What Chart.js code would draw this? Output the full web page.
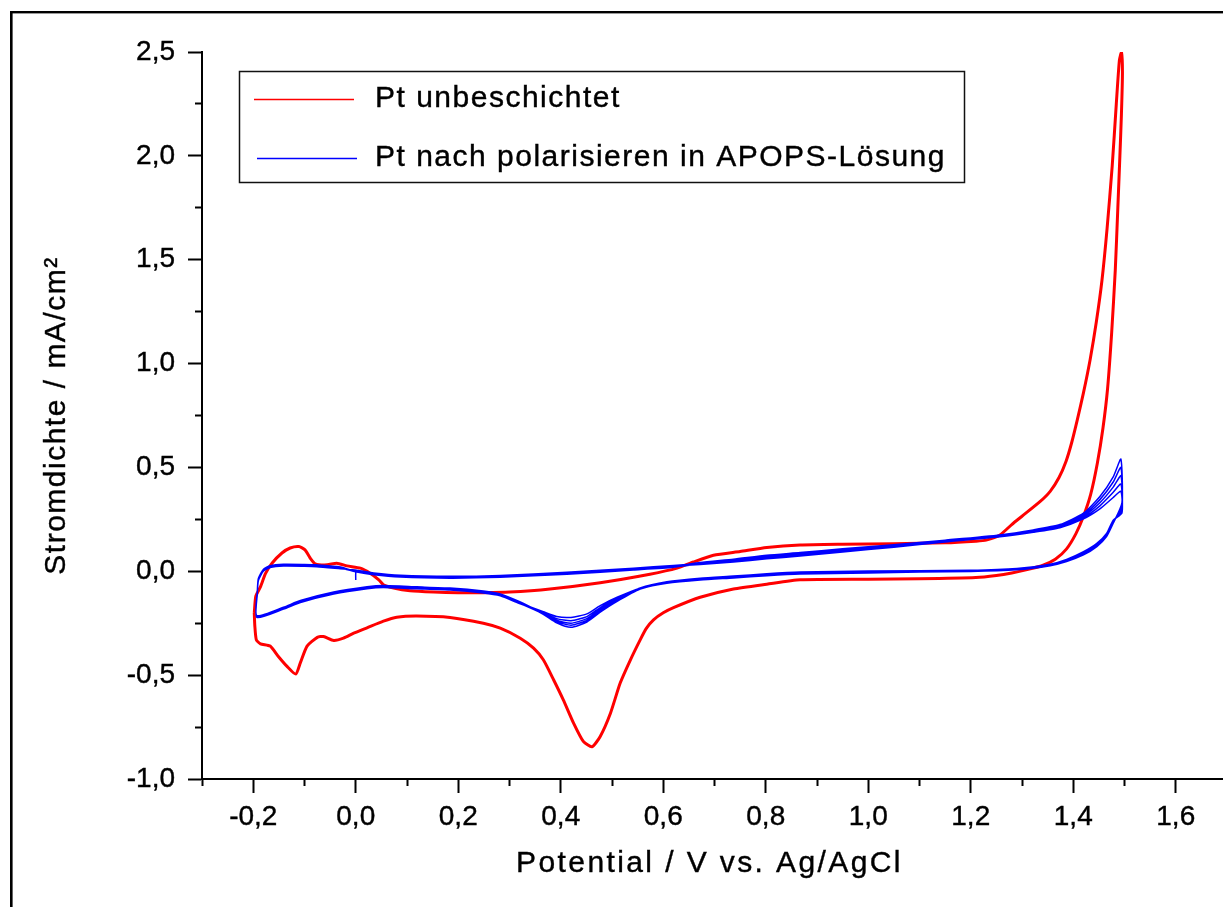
<!DOCTYPE html>
<html>
<head>
<meta charset="utf-8">
<script src="https://cdn.jsdelivr.net/npm/chart.js@4/dist/chart.umd.min.js"></script>
<style>
  html, body { margin: 0; padding: 0; overflow: hidden; background: #fff; }
  #wrap { width: 1223px; height: 907px; overflow: hidden; position: relative; }
  canvas { display: block; }
</style>
</head>
<body>
<div id="wrap"><canvas id="cv" width="1232" height="907"></canvas></div>
<script>
// Axis ranges and tick positions
const xRange = [-0.3, 1.7];
const yRange = [-1.0, 2.5];
const xMajorTicks = [-0.2, 0.0, 0.2, 0.4, 0.6, 0.8, 1.0, 1.2, 1.4, 1.6];
const xMinorTicks = [-0.3, -0.1, 0.1, 0.3, 0.5, 0.7, 0.9, 1.1, 1.3, 1.5, 1.7];
const yMajorTicks = [-1.0, -0.5, 0.0, 0.5, 1.0, 1.5, 2.0, 2.5];
const yMinorTicks = [-0.75, -0.25, 0.25, 0.75, 1.25, 1.75, 2.25];

// Pt unbeschichtet: one full cycle [potential V, current density mA/cm²]
const redLoop = [
  [-0.198,-0.200],[-0.195,-0.120],[-0.186,-0.075],[-0.176,-0.010],[-0.163,0.040],[-0.144,0.088],
  [-0.128,0.112],[-0.111,0.119],[-0.099,0.103],[-0.089,0.064],[-0.079,0.036],[-0.056,0.031],
  [-0.037,0.039],[-0.017,0.026],[0.009,0.015],[0.028,-0.009],[0.045,-0.041],[0.054,-0.065],
  [0.074,-0.081],[0.106,-0.094],[0.152,-0.100],[0.200,-0.103],[0.250,-0.103],[0.300,-0.100],
  [0.379,-0.085],[0.477,-0.055],[0.574,-0.014],[0.627,0.015],[0.659,0.045],[0.698,0.077],
  [0.750,0.095],[0.802,0.114],[0.867,0.126],[0.950,0.130],[1.050,0.133],[1.150,0.137],
  [1.210,0.145],[1.230,0.150],[1.257,0.175],[1.280,0.225],[1.300,0.265],[1.335,0.335],
  [1.355,0.385],[1.372,0.450],[1.386,0.530],[1.397,0.620],[1.408,0.730],[1.420,0.860],
  [1.433,1.020],[1.445,1.200],[1.456,1.400],[1.466,1.650],[1.476,1.950],[1.484,2.250],
  [1.490,2.460],[1.494,2.500],
  [1.496,2.400],[1.494,2.200],[1.491,2.000],[1.487,1.750],[1.482,1.450],[1.475,1.150],
  [1.467,0.880],[1.458,0.690],[1.447,0.520],[1.434,0.370],[1.420,0.265],[1.405,0.180],
  [1.387,0.108],[1.365,0.058],[1.340,0.028],[1.310,0.008],[1.280,-0.008],[1.250,-0.020],
  [1.210,-0.030],[1.100,-0.036],[1.000,-0.038],[0.867,-0.041],[0.802,-0.062],[0.737,-0.085],
  [0.672,-0.125],[0.620,-0.175],[0.600,-0.200],[0.581,-0.234],[0.567,-0.275],[0.555,-0.330],
  [0.536,-0.426],[0.516,-0.538],[0.497,-0.683],[0.477,-0.795],[0.461,-0.845],[0.444,-0.819],
  [0.425,-0.731],[0.405,-0.619],[0.386,-0.522],[0.366,-0.426],[0.347,-0.370],[0.321,-0.322],
  [0.282,-0.274],[0.249,-0.250],[0.184,-0.222],[0.119,-0.215],[0.080,-0.221],[0.054,-0.240],
  [0.022,-0.272],[-0.004,-0.298],[-0.024,-0.322],[-0.043,-0.333],[-0.063,-0.314],[-0.075,-0.318],
  [-0.095,-0.360],[-0.108,-0.440],[-0.117,-0.495],[-0.134,-0.458],[-0.151,-0.410],[-0.167,-0.360],
  [-0.186,-0.349],[-0.194,-0.330],[-0.197,-0.260],[-0.198,-0.200]
];

// Pt nach polarisieren: scan start at 0 V, then five cycles sharing one potential path
const blueStartPotential = [0.000, 0.000];
const blueStartCurrent = [-0.042, -0.008];
const bluePotential = [
  0.002, 0.035, 0.087, 0.184, 0.282, 0.412, 0.542, 0.620, 0.672, 0.737,
  0.802, 0.867, 0.950, 1.050, 1.150, 1.257, 1.322, 1.374, 1.420, 1.452,
  1.478, 1.493, 1.495, 1.478, 1.465, 1.446, 1.420, 1.387, 1.355, 1.290,
  1.200, 1.000, 0.867, 0.802, 0.737, 0.672, 0.607, 0.555, 0.510, 0.477,
  0.451, 0.420, 0.392, 0.366, 0.321, 0.282, 0.249, 0.184, 0.119, 0.054,
  0.022, -0.043, -0.108, -0.141, -0.193, -0.192, -0.190, -0.180, -0.167, -0.141,
  -0.100, -0.076, -0.030
];
const blueCycle1 = [
  0.000, -0.013, -0.024, -0.029, -0.025, -0.010, 0.010, 0.023, 0.042, 0.058,
  0.077, 0.090, 0.108, 0.128, 0.150, 0.175, 0.199, 0.225, 0.280, 0.360,
  0.455, 0.540, 0.330, 0.231, 0.167, 0.119, 0.079, 0.047, 0.027, 0.007,
  -0.001, -0.005, -0.009, -0.017, -0.028, -0.038, -0.054, -0.081, -0.125, -0.165,
  -0.205, -0.222, -0.218, -0.195, -0.153, -0.114, -0.100, -0.086, -0.080, -0.074,
  -0.080, -0.105, -0.146, -0.178, -0.218, -0.100, -0.040, 0.005, 0.022, 0.029,
  0.028, 0.026, 0.016
];
const blueCycle2 = [
  -0.004, -0.017, -0.028, -0.033, -0.029, -0.014, 0.006, 0.019, 0.040, 0.055,
  0.072, 0.086, 0.104, 0.125, 0.148, 0.172, 0.195, 0.220, 0.272, 0.345,
  0.430, 0.500, 0.310, 0.236, 0.172, 0.124, 0.084, 0.050, 0.030, 0.009,
  0.001, -0.008, -0.013, -0.021, -0.032, -0.042, -0.058, -0.085, -0.130, -0.175,
  -0.218, -0.238, -0.228, -0.200, -0.157, -0.118, -0.104, -0.090, -0.084, -0.078,
  -0.084, -0.109, -0.150, -0.182, -0.222, -0.105, -0.044, 0.001, 0.018, 0.025,
  0.024, 0.022, 0.012
];
const blueCycle3 = [
  0.005, -0.008, -0.019, -0.024, -0.020, -0.005, 0.015, 0.028, 0.037, 0.050,
  0.066, 0.080, 0.099, 0.121, 0.145, 0.170, 0.192, 0.216, 0.265, 0.330,
  0.405, 0.460, 0.300, 0.240, 0.176, 0.128, 0.088, 0.053, 0.031, 0.012,
  0.005, 0.001, -0.004, -0.012, -0.023, -0.033, -0.050, -0.080, -0.135, -0.183,
  -0.228, -0.250, -0.236, -0.203, -0.148, -0.109, -0.095, -0.081, -0.075, -0.069,
  -0.075, -0.100, -0.141, -0.173, -0.213, -0.095, -0.035, 0.010, 0.027, 0.034,
  0.033, 0.031, 0.021
];
const blueCycle4 = [
  -0.002, -0.015, -0.026, -0.031, -0.027, -0.012, 0.008, 0.021, 0.035, 0.047,
  0.062, 0.076, 0.096, 0.118, 0.143, 0.168, 0.190, 0.213, 0.258, 0.315,
  0.380, 0.420, 0.290, 0.244, 0.180, 0.131, 0.091, 0.055, 0.032, 0.011,
  0.002, -0.006, -0.011, -0.019, -0.030, -0.040, -0.057, -0.086, -0.140, -0.190,
  -0.236, -0.260, -0.242, -0.205, -0.155, -0.116, -0.102, -0.088, -0.082, -0.076,
  -0.082, -0.107, -0.148, -0.180, -0.220, -0.102, -0.042, 0.003, 0.020, 0.027,
  0.026, 0.024, 0.014
];
const blueCycle5 = [
  0.003, -0.010, -0.021, -0.026, -0.022, -0.007, 0.013, 0.026, 0.033, 0.045,
  0.060, 0.073, 0.093, 0.116, 0.141, 0.166, 0.188, 0.210, 0.252, 0.300,
  0.355, 0.385, 0.280, 0.246, 0.182, 0.134, 0.094, 0.057, 0.034, 0.013,
  0.004, -0.002, -0.006, -0.014, -0.025, -0.035, -0.053, -0.086, -0.145, -0.197,
  -0.244, -0.270, -0.248, -0.207, -0.150, -0.111, -0.097, -0.083, -0.077, -0.071,
  -0.077, -0.102, -0.143, -0.175, -0.215, -0.098, -0.037, 0.008, 0.025, 0.032,
  0.031, 0.029, 0.019
];

const seriesLabels = ['Pt unbeschichtet', 'Pt nach polarisieren in APOPS-Lösung'];
const axisTitles = { x: 'Potential / V vs. Ag/AgCl', y: 'Stromdichte / mA/cm²' };

const FONT = "'Liberation Sans', Arial, sans-serif";
const fmt = v => Number(v).toFixed(1).replace('.', ',');

const redPoints = redLoop.map(([x, y]) => ({ x, y }));
const bluePoints = blueStartPotential.map((x, i) => ({ x, y: blueStartCurrent[i] }));
[blueCycle1, blueCycle2, blueCycle3, blueCycle4, blueCycle5].forEach(cycle => {
  bluePotential.forEach((x, i) => bluePoints.push({ x, y: cycle[i] }));
});

// Outer figure frame (top and left edges)
const framePlugin = {
  id: 'frame',
  beforeDraw(chart) {
    const c = chart.ctx;
    c.save();
    c.fillStyle = '#fff';
    c.fillRect(0, 0, chart.width, chart.height);
    c.fillStyle = '#000';
    c.fillRect(10, 11, 2.6, chart.height);
    c.fillRect(10, 11, chart.width, 2.4);
    c.restore();
  }
};

// Axis titles drawn with wider letter spacing and a light outline for weight
const titleSpacing = { x: { spacing: '2.4px', shift: -5 }, y: { spacing: '1.5px', shift: 0 } };
const spacedTitles = {
  id: 'spacedTitles',
  beforeDraw(chart) {
    Object.keys(titleSpacing).forEach(id => {
      const s = chart.scales[id];
      if (!s || s._spacedTitle) return;
      const orig = s.drawTitle.bind(s);
      s.drawTitle = function () {
        const c = this.ctx;
        const proto = CanvasRenderingContext2D.prototype;
        c.save();
        c.letterSpacing = titleSpacing[id].spacing;
        c.translate(titleSpacing[id].shift, 0);
        c.fillText = function (t, x, y, mw) {
          proto.fillText.call(this, t, x, y, mw);
          this.lineWidth = 0.4;
          this.strokeStyle = '#000';
          proto.strokeText.call(this, t, x, y, mw);
        };
        orig();
        delete c.fillText;
        c.restore();
      };
      s._spacedTitle = true;
    });
  }
};

// Framed legend inside the plot
const boxedLegend = {
  id: 'boxedLegend',
  afterDraw(chart) {
    const c = chart.ctx;
    c.save();
    c.lineWidth = 1.5;
    c.strokeStyle = '#111';
    c.strokeRect(239.5, 71.5, 725, 111);
    const rowY = [99, 158];
    const lineX = [[254, 354], [257, 357]];
    chart.data.datasets.forEach((ds, i) => {
      const y = rowY[i];
      c.strokeStyle = ds.borderColor;
      c.lineWidth = 1.3;
      c.beginPath();
      c.moveTo(lineX[i][0], y + 0.5);
      c.lineTo(lineX[i][1], y + 0.5);
      c.stroke();
      c.fillStyle = '#000';
      c.strokeStyle = '#000';
      c.lineWidth = 0.4;
      c.font = '30px ' + FONT;
      c.letterSpacing = '1.5px';
      c.textAlign = 'left';
      c.textBaseline = 'middle';
      c.fillText(ds.label, 375, y);
      c.strokeText(ds.label, 375, y);
    });
    c.restore();
  }
};

const tickFont = { family: FONT, size: 28 };
const titleFont = { family: FONT, size: 30 };

new Chart(document.getElementById('cv'), {
  type: 'scatter',
  data: {
    datasets: [
      {
        label: seriesLabels[0], data: redPoints, showLine: true,
        borderColor: '#ff0000', backgroundColor: '#ff0000', borderWidth: 3,
        pointRadius: 0, tension: 0.2, order: 1, xAxisID: 'x', yAxisID: 'y'
      },
      {
        label: seriesLabels[1], data: bluePoints, showLine: true,
        borderColor: '#0000ff', backgroundColor: '#0000ff', borderWidth: 1.5,
        pointRadius: 0, tension: 0.2, order: 0, xAxisID: 'x', yAxisID: 'y'
      }
    ]
  },
  options: {
    responsive: false,
    animation: false,
    devicePixelRatio: 1,
    layout: { padding: { top: 52, right: 5, bottom: 0, left: 0 } },
    plugins: { legend: { display: false }, tooltip: { enabled: false } },
    scales: {
      x: {
        type: 'linear', axis: 'x', position: 'bottom', weight: 1,
        min: xRange[0], max: xRange[1],
        afterBuildTicks: s => { s.ticks = xMajorTicks.map(v => ({ value: v })); },
        afterFit: s => { s.height = 128; },
        ticks: { autoSkip: false, maxRotation: 0, color: '#000', font: tickFont, padding: 7,
                 textStrokeColor: '#000', textStrokeWidth: 0.4, callback: v => fmt(v) },
        grid: { drawOnChartArea: false, drawTicks: true, tickLength: 14, tickWidth: 2, tickColor: '#000' },
        border: { display: true, color: '#000', width: 2 },
        title: { display: true, text: axisTitles.x, color: '#000', font: titleFont, padding: { top: 0, bottom: 25 } }
      },
      xMinor: {
        type: 'linear', axis: 'x', position: 'bottom', weight: 0,
        min: xRange[0], max: xRange[1],
        afterBuildTicks: s => { s.ticks = xMinorTicks.map(v => ({ value: v })); },
        afterFit: s => { s.height = 0; },
        ticks: { display: false },
        grid: { drawOnChartArea: false, drawTicks: true, tickLength: 7, tickWidth: 2, tickColor: '#000' },
        border: { display: false }
      },
      y: {
        type: 'linear', axis: 'y', position: 'left', weight: 1,
        min: yRange[0], max: yRange[1],
        afterBuildTicks: s => { s.ticks = yMajorTicks.map(v => ({ value: v })); },
        afterFit: s => { s.width = 202; },
        ticks: { autoSkip: false, color: '#000', font: tickFont, padding: 13,
                 textStrokeColor: '#000', textStrokeWidth: 0.4, callback: v => fmt(v) },
        grid: { drawOnChartArea: false, drawTicks: true, tickLength: 14, tickWidth: 2, tickColor: '#000' },
        border: { display: true, color: '#000', width: 2 },
        title: { display: true, text: axisTitles.y, color: '#000', font: titleFont, padding: { top: 39, bottom: 0 } }
      },
      yMinor: {
        type: 'linear', axis: 'y', position: 'left', weight: 0,
        min: yRange[0], max: yRange[1],
        afterBuildTicks: s => { s.ticks = yMinorTicks.map(v => ({ value: v })); },
        afterFit: s => { s.width = 0; },
        ticks: { display: false },
        grid: { drawOnChartArea: false, drawTicks: true, tickLength: 7, tickWidth: 2, tickColor: '#000' },
        border: { display: false }
      }
    }
  },
  plugins: [framePlugin, spacedTitles, boxedLegend]
});
</script>
</body>
</html>
